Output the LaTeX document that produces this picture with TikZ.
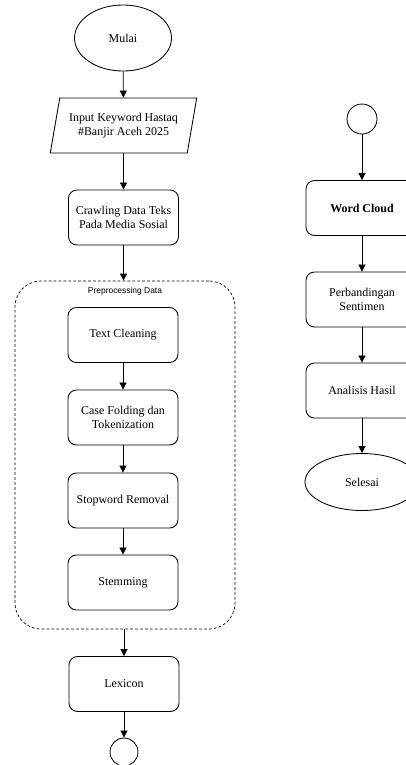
\documentclass[tikz,border=0pt]{standalone}
\usepackage{fontspec}
\setmainfont{Liberation Serif}
\newfontfamily\labelfont{Liberation Sans}
\usetikzlibrary{shapes.geometric,arrows.meta,positioning}
\begin{document}
\begin{tikzpicture}
    [x=0.025cm,y=-0.025cm,line width=0.6pt,
     font=\fontsize{8.5}{10}\selectfont,
     proc/.style={draw,rounded corners=6pt,align=center,
       minimum width=2.75cm,minimum height=1.375cm},
     term/.style={draw,ellipse,inner sep=0pt},
     conn/.style={draw,circle,inner sep=0pt},
     flow/.style={-{Triangle[length=5pt,width=5pt]}}]
    \useasboundingbox (0,0) rectangle (406,765);
    % left column
    \node[term,minimum width=2.425cm,minimum height=1.65cm](mulai) at (123,38){Mulai};
    \node[draw,trapezium,trapezium left angle=72,trapezium right angle=108,
      trapezium stretches=true,minimum width=3.675cm,minimum height=1.375cm,
      align=center,inner sep=0pt](input) at (123.5,125.5){Input Keyword Hastaq\\\#Banjir Aceh 2025};
    \node[proc](crawl) at (123.5,217.5){Crawling Data Teks\\Pada Media Sosial};
    \node[draw,dash pattern=on 2pt off 1.5pt,line width=0.5pt,rounded corners=0.65cm,
      minimum width=5.5cm,minimum height=8.7cm](prep) at (125,455){};
    \node[below=1pt of prep.north,font=\labelfont\fontsize{6}{7}\selectfont](preplbl){Preprocessing Data};
    \node[proc](clean) at (123,335){Text Cleaning};
    \node[proc](fold) at (123,417.5){Case Folding dan\\Tokenization};
    \node[proc](stop) at (123,500.5){Stopword Removal};
    \node[proc](stem) at (123,582.5){Stemming};
    \node[proc](lex) at (124,684){Lexicon};
    \node[conn,minimum size=0.7cm](c1) at (124,752){};
    % right column
    \node[conn,minimum size=0.75cm](c2) at (362,119){};
    \node[proc,minimum width=2.8cm,font=\bfseries\fontsize{8.5}{10}\selectfont](wc) at (362,208){Word Cloud};
    \node[proc,minimum width=2.8cm](banding) at (362,299.5){Perbandingan\\Sentimen};
    \node[proc,minimum width=2.8cm](analisis) at (362,390.5){Analisis Hasil};
    \node[term,minimum width=2.85cm,minimum height=1.425cm](selesai) at (362,482){Selesai};
    \draw[flow] (mulai) -- (input);
    \draw[flow] (input) -- (crawl);
    \draw[flow] (crawl) -- (crawl.south |- prep.north);
    \draw[flow] (clean) -- (fold);
    \draw[flow] (fold) -- (stop);
    \draw[flow] (stop) -- (stem);
    \draw[flow] (lex.north |- prep.south) -- (lex);
    \draw[flow] (lex) -- (c1);
    \draw[flow] (c2) -- (wc);
    \draw[flow] (wc) -- (banding);
    \draw[flow] (banding) -- (analisis);
    \draw[flow] (analisis) -- (selesai);
\end{tikzpicture}
\end{document}
